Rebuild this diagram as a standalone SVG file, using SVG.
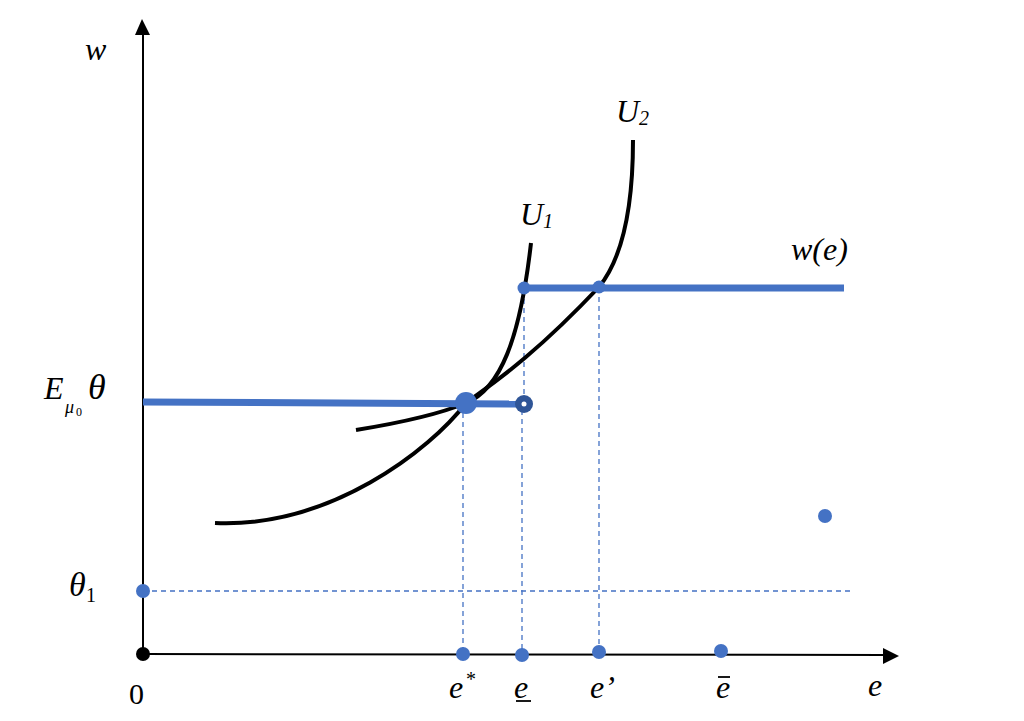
<svg xmlns="http://www.w3.org/2000/svg" width="1024" height="721" viewBox="0 0 1024 721">
<style>
.t{font-family:"Liberation Serif","DejaVu Serif",serif;font-style:italic;font-size:32px;fill:#000}
.n{font-family:"Liberation Serif","DejaVu Serif",serif;font-size:30px;fill:#000}
.dash{stroke:#4472C4;stroke-width:1.3;stroke-dasharray:5,4;fill:none}
.blue{stroke:#4472C4;stroke-width:7;fill:none}
.curve{stroke:#000;stroke-width:4;fill:none}
.dot{fill:#4472C4}
</style>
<rect width="1024" height="721" fill="#fff"/>
<g id="axes">
<line x1="143" y1="654" x2="143" y2="34" stroke="#000" stroke-width="2"/>
<polygon points="142,19 135,35 150,35" fill="#000"/>
<line x1="143" y1="654" x2="884" y2="655" stroke="#000" stroke-width="2"/>
<polygon points="899,656 883,648 883,664" fill="#000"/>
<circle cx="143" cy="654" r="7" fill="#000"/>
</g>
<g id="connectors">
<line class="dash" x1="143" y1="591" x2="850" y2="591"/>
<line class="dash" x1="463" y1="404" x2="463" y2="654"/>
<line class="dash" x1="522" y1="410" x2="522" y2="654"/>
<line class="dash" x1="524" y1="290" x2="524" y2="400"/>
<line class="dash" x1="599" y1="288" x2="599" y2="652"/>
</g>
<g id="U2">
<path class="curve" d="M215,523 C330,528 430,450 466,403 C490,385 530,360 599,287 M599,287 C625,255 633,200 633,140"/>
</g>
<g id="U1">
<path class="curve" d="M356,430 Q430,418 466,403 C500,389 520,340 531,243"/>
</g>
<g id="we">
<line class="blue" x1="143" y1="402" x2="524" y2="404"/>
<line class="blue" x1="524" y1="288" x2="844" y2="288"/>
<circle class="dot" cx="466" cy="403" r="11"/>
<circle cx="524" cy="404" r="9" fill="#2F5597"/>
<circle cx="524" cy="404" r="2.5" fill="#fff"/>
<circle class="dot" cx="524" cy="288" r="6.5"/>
<circle class="dot" cx="599" cy="287" r="6.5"/>
</g>
<g id="points">
<circle class="dot" cx="143" cy="591" r="7"/>
<circle class="dot" cx="463" cy="654" r="7"/>
<circle class="dot" cx="522" cy="655" r="7"/>
<circle class="dot" cx="599" cy="652" r="7"/>
<circle class="dot" cx="721" cy="651" r="7"/>
<circle class="dot" cx="825" cy="516" r="7"/>
</g>
<g id="labels">
<text class="t" x="85" y="60">w</text>
<text class="t" x="44" y="399">E</text>
<text class="t" x="65" y="413" style="font-size:18px">μ</text>
<text class="n" x="76" y="416" style="font-size:12px">0</text>
<text class="t" x="88" y="399" style="font-size:36px">θ</text>
<text class="t" x="69" y="596" style="font-size:34px">θ</text>
<text class="n" x="86" y="602" style="font-size:20px">1</text>
<text class="n" x="129" y="704">0</text>
<text class="t" x="449" y="698">e</text>
<text class="n" x="466" y="686" style="font-size:20px">*</text>
<text class="t" x="514" y="698">e</text>
<line x1="516" y1="701" x2="531" y2="701" stroke="#000" stroke-width="1.8"/>
<text class="t" x="590" y="698">e’</text>
<line x1="718" y1="677" x2="730" y2="677" stroke="#000" stroke-width="1.8"/>
<text class="t" x="716" y="698">e</text>
<text class="t" x="868" y="696">e</text>
<text class="t" x="616" y="122">U</text>
<text class="t" x="639" y="125" style="font-size:20px">2</text>
<text class="t" x="520" y="225">U</text>
<text class="t" x="543" y="228" style="font-size:20px">1</text>
<text class="t" x="791" y="260">w(e)</text>
</g>
</svg>
